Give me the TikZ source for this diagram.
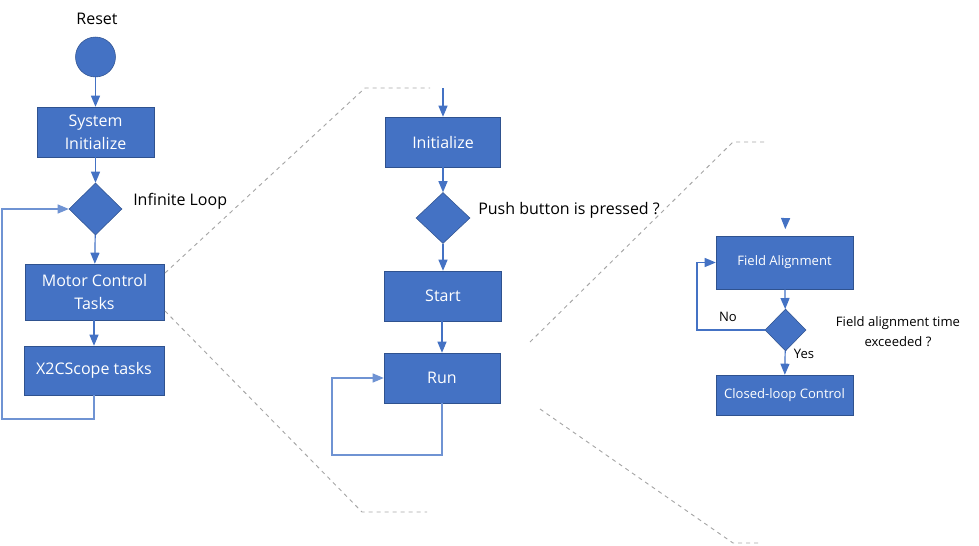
\documentclass[tikz,border=0pt]{standalone}
\usepackage{xcolor}
\usepackage{fontspec}
\setmainfont{Open Sans}
\usepackage{tikz}
\usetikzlibrary{calc}
\usetikzlibrary{shapes,arrows}
\usetikzlibrary{shapes.geometric}
\definecolor{ublue}{HTML}{4472C4}
\definecolor{uedge}{HTML}{2F528F}
\definecolor{uloop}{HTML}{6F93D3}
\definecolor{ugray}{HTML}{A6A6A6}
\begin{document}
\begin{tikzpicture}[x=0.75pt, y=-0.75pt, thin,
    box/.style={rectangle,fill=ublue,draw=uedge,text=white,align=center,inner sep=0pt,font=\fontsize{12}{17}\selectfont},
    smallbox/.style={box,font=\fontsize{9.8}{12}\selectfont},
    dec/.style={diamond,fill=ublue,draw=uedge,inner sep=0pt},
    lbl/.style={text=black,inner sep=0pt,font=\fontsize{12}{14.5}\selectfont},
    smalllbl/.style={lbl,font=\fontsize{9.8}{15}\selectfont},
    flow/.style={->,>=triangle 45,draw=ublue,line width=0.9pt},
    zoomline/.style={draw=ugray,dashed,line width=0.7pt}]
        \useasboundingbox (0,0) rectangle (979,546);

        % Nodes
        \draw (97,19) node(lreset) [lbl] {Reset};
        \draw (95.5,57) node(reset) [circle,fill=ublue,draw=uedge,minimum size=30pt] {};
        \draw (95.5,132) node(sysinit) [box,minimum width=87.75pt,minimum height=37.5pt] {System\\Initialize};
        \draw (95.5,209) node(loop) [dec,minimum width=39.75pt,minimum height=39pt] {};
        \draw (133,201) node(linf) [lbl,anchor=west] {Infinite Loop};
        \draw (94.5,292) node(mct) [box,minimum width=104.25pt,minimum height=42pt] {Motor Control\\Tasks};
        \draw (94,370.5) node(x2c) [box,minimum width=105pt,minimum height=36.75pt] {X2CScope tasks};

        \draw (443,142) node(init) [box,minimum width=86.25pt,minimum height=37.5pt] {Initialize};
        \draw (443,218) node(push) [dec,minimum width=40.5pt,minimum height=38.25pt] {};
        \draw (478,210) node(lpush) [lbl,anchor=west] {Push button is pressed ?};
        \draw (443,296) node(start) [box,minimum width=87.75pt,minimum height=37.5pt] {Start};
        \draw (442,378) node(run) [box,minimum width=87pt,minimum height=37.5pt] {Run};

        \draw (784.5,262.5) node(field) [smallbox,minimum width=102.75pt,minimum height=39.75pt] {Field Alignment};
        \draw (785.5,330) node(fdec) [dec,minimum width=30.75pt,minimum height=31.5pt] {};
        \draw (728,317) node(lno) [smalllbl] {No};
        \draw (804,354) node(lyes) [smalllbl] {Yes};
        \draw (898,332) node(lexc) [smalllbl,align=center] {Field alignment time\\exceeded ?};
        \draw (784.5,395) node(closed) [smallbox,minimum width=102.75pt,minimum height=30pt] {Closed-loop Control};

        \coordinate (loopc) at (2,419);
        \coordinate (initin) at (443,88);
        \coordinate (runc) at (332,455);
        \coordinate (fieldin) at (785.5,221);
        \coordinate (fdecc) at (697,330);

        % Edges
        \draw[flow] (reset) -- (sysinit);
        \draw[flow] (sysinit) -- (loop);
        \draw[flow] (loop) -- (mct);
        \draw[flow] (mct.south -| x2c) -- (x2c);
        \draw[flow,draw=uloop] (x2c.south) |- (loopc) |- (loop.west);

        \draw[flow] (initin) -- (init);
        \draw[flow] (init) -- (push);
        \draw[flow] (push) -- (start);
        \draw[flow] (start.south -| run) -- (run);
        \draw[flow,draw=uloop] (run.south) |- (runc) |- (run.west);

        \draw[flow,shorten >=5pt] (fieldin) -- (field);
        \draw[flow] (field) -- (fdec);
        \draw[flow] (fdec) -- (closed);
        \draw[flow] (fdec.west) -- (fdecc) |- (field.west);

        % Zoom lines
        \draw[zoomline] (165,273) -- (365,88) -- (430,88);
        \draw[zoomline] (165,311) -- (362,512) -- (427,512);
        \draw[zoomline] (530,342) -- (733,142) -- (767,142);
        \draw[zoomline] (540,409) -- (733,543) -- (760,543);

      \end{tikzpicture}
\end{document}
